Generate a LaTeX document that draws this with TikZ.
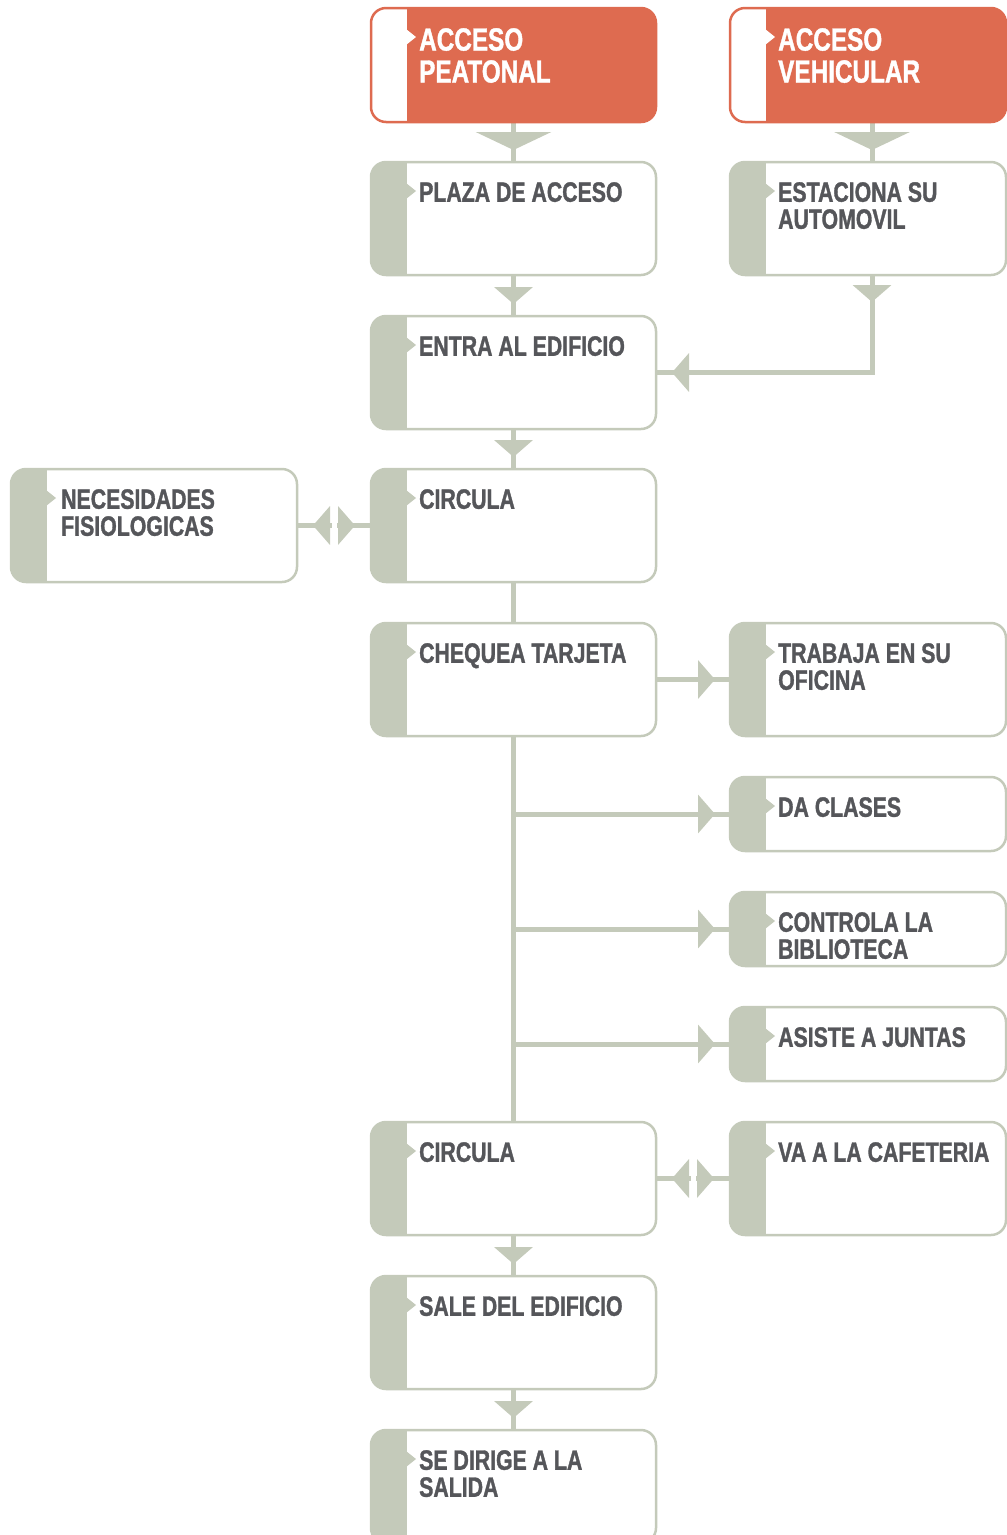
\documentclass[tikz,border=0pt]{standalone}
\usepackage{fontspec}
\usetikzlibrary{arrows.meta, positioning, backgrounds, decorations.markings}
\newfontfamily\boxfont{Liberation Sans}[FakeStretch=0.76, BoldFeatures={FakeBold=1.2}]
\definecolor{accessorange}{RGB}{222,107,80}
\definecolor{flowsage}{RGB}{196,202,186}
\definecolor{labelgray}{RGB}{85,86,90}

\tikzset{
  flowtip/.tip={Triangle[width=38pt,length=17pt]},
  bigtip/.tip={Triangle[width=75pt,length=18pt]},
  stripe/.style={path picture={
      \fill[#1, sharp corners] (path picture bounding box.north west)
        rectangle ([xshift=36pt]path picture bounding box.south west);
      \fill[#1, sharp corners] ([xshift=35pt,yshift=-21pt]path picture bounding box.north west)
        -- ++(10pt,-8pt) -- ++(-10pt,-8pt) -- cycle;
    }},
  boxbase/.style={rectangle, rounded corners=15pt, line width=2.5pt,
    minimum width=285pt, minimum height=113pt, inner sep=0pt, outer sep=0pt, anchor=north west},
  stepbox/.style={boxbase, draw=flowsage, fill=white, stripe=flowsage},
  accessbox/.style={boxbase, draw=accessorange, fill=accessorange, stripe=white, minimum height=114pt},
  rightbox/.style={minimum width=276pt},
  shortbox/.style={minimum height=74pt},
  steptext/.style={inner sep=0pt, align=left, text=labelgray,
    font=\boxfont\bfseries\fontsize{28}{27}\selectfont},
  accesstext/.style={steptext, text=white, font=\boxfont\bfseries\fontsize{32}{32}\selectfont},
  flowline/.style={draw=flowsage, line width=5pt},
  into/.style={postaction={decorate}, decoration={markings,
      mark=at position #1 with {\arrow[flowsage]{flowtip}}}},
  bigin/.style={postaction={decorate}, decoration={markings,
      mark=at position -12pt with {\arrow[flowsage]{bigtip}}}},
  elbow/.style={postaction={decorate}, decoration={markings,
      mark=at position 27pt with {\arrow[flowsage]{flowtip}},
      mark=at position -16pt with {\arrow[flowsage]{flowtip}}}},
  twoway/.style={postaction={decorate}, decoration={markings,
      mark=at position 16pt with {\arrowreversed[flowsage]{flowtip}},
      mark=at position -16pt with {\arrow[flowsage]{flowtip}},
      mark=at position 0.5 with {\fill[white] (-2.5pt,-22pt) rectangle (2.5pt,22pt);}}},
}

\begin{document}
\begin{tikzpicture}[x=1pt, y=-1pt]
  \useasboundingbox (0,0) rectangle (1007,1535);

  % accesos
  \node[accessbox] (accped) at (371,8) {};
  \node[accesstext, below right=20pt and 48pt of accped.north west] (accped-t) {ACCESO\\PEATONAL};
  \node[accessbox, rightbox] (accveh) at (730,8) {};
  \node[accesstext, below right=20pt and 48pt of accveh.north west] (accveh-t) {ACCESO\\VEHICULAR};

  % columna central
  \node[stepbox] (plaza) at (371,162) {};
  \node[steptext, below right=20pt and 48pt of plaza.north west] (plaza-t) {PLAZA DE ACCESO};
  \node[stepbox] (entra) at (371,316) {};
  \node[steptext, below right=20pt and 48pt of entra.north west] (entra-t) {ENTRA AL EDIFICIO};
  \node[stepbox] (circula) at (371,469) {};
  \node[steptext, below right=20pt and 48pt of circula.north west] (circula-t) {CIRCULA};
  \node[stepbox] (chequea) at (371,623) {};
  \node[steptext, below right=20pt and 48pt of chequea.north west] (chequea-t) {CHEQUEA TARJETA};
  \node[stepbox] (circula2) at (371,1122) {};
  \node[steptext, below right=20pt and 48pt of circula2.north west] (circula2-t) {CIRCULA};
  \node[stepbox] (sale) at (371,1276) {};
  \node[steptext, below right=20pt and 48pt of sale.north west] (sale-t) {SALE DEL EDIFICIO};
  \node[stepbox] (dirige) at (371,1430) {};
  \node[steptext, below right=20pt and 48pt of dirige.north west] (dirige-t) {SE DIRIGE A LA\\SALIDA};

  % izquierda
  \node[stepbox, minimum width=286pt] (necesidades) at (11,469) {};
  \node[steptext, below right=20pt and 50pt of necesidades.north west] (necesidades-t) {NECESIDADES\\FISIOLOGICAS};

  % derecha
  \node[stepbox, rightbox] (estaciona) at (730,162) {};
  \node[steptext, below right=20pt and 48pt of estaciona.north west] (estaciona-t) {ESTACIONA SU\\AUTOMOVIL};
  \node[stepbox, rightbox] (trabaja) at (730,623) {};
  \node[steptext, below right=20pt and 48pt of trabaja.north west] (trabaja-t) {TRABAJA EN SU\\OFICINA};
  \node[stepbox, rightbox, shortbox] (clases) at (730,777) {};
  \node[steptext, below right=20pt and 48pt of clases.north west] (clases-t) {DA CLASES};
  \node[stepbox, rightbox, shortbox] (biblioteca) at (730,892) {};
  \node[steptext, below right=20pt and 48pt of biblioteca.north west] (biblioteca-t) {CONTROLA LA\\BIBLIOTECA};
  \node[stepbox, rightbox, shortbox] (juntas) at (730,1007) {};
  \node[steptext, below right=20pt and 48pt of juntas.north west] (juntas-t) {ASISTE A JUNTAS};
  \node[stepbox, rightbox] (cafeteria) at (730,1122) {};
  \node[steptext, below right=20pt and 48pt of cafeteria.north west] (cafeteria-t) {VA A LA CAFETERIA};

  \begin{scope}[on background layer]
    \draw[flowline, bigin] (accped.south) -- (plaza.north);
    \draw[flowline, bigin] ([xshift=4pt]accveh.south) -- ([xshift=4pt]estaciona.north);
    \draw[flowline, into=-12pt] (plaza.south) -- (entra.north);
    \draw[flowline, elbow] ([xshift=4pt]estaciona.south) |- (entra.east);
    \draw[flowline, into=-12pt] (entra.south) -- (circula.north);
    \draw[flowline, twoway] (necesidades.east) -- (circula.west);
    \draw[flowline] (circula.south) -- (chequea.north);
    \draw[flowline, into=-15pt] (chequea.east) -- (trabaja.west);
    \draw[flowline] (chequea.south) -- (circula2.north);
    \draw[flowline, into=-15pt] (chequea.south |- clases.west) -- (clases.west);
    \draw[flowline, into=-15pt] (chequea.south |- biblioteca.west) -- (biblioteca.west);
    \draw[flowline, into=-15pt] (chequea.south |- juntas.west) -- (juntas.west);
    \draw[flowline, twoway] (circula2.east) -- (cafeteria.west);
    \draw[flowline, into=-12pt] (circula2.south) -- (sale.north);
    \draw[flowline, into=-12pt] (sale.south) -- (dirige.north);
  \end{scope}
\end{tikzpicture}
\end{document}
